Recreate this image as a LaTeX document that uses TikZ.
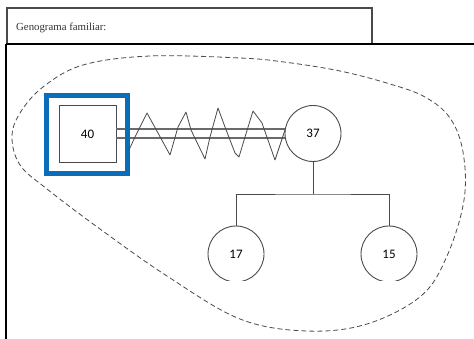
\documentclass[tikz,border=0pt]{standalone}
\usepackage{fontspec}
\setmainfont{Liberation Serif}
\newfontfamily\numfont{Carlito}
\definecolor{frameblue}{HTML}{0B6DB8}
\definecolor{inkgray}{HTML}{4A4A4A}
\definecolor{linkgray}{HTML}{6A6A6A}
\tikzset{
  person/.style={draw=inkgray, line width=0.9pt, font=\numfont\fontsize{13}{15}\selectfont, inner sep=0pt},
  female/.style={person, circle, minimum size=56pt},
  male/.style={person, rectangle, minimum size=56pt},
  tie/.style={draw=inkgray, line width=0.9pt},
  marriage/.style={draw=linkgray, line width=1.1pt},
  boundary/.style={draw=inkgray, line width=0.8pt, dash pattern=on 5pt off 3pt},
}
\begin{document}
\begin{tikzpicture}[x=1pt, y=-1pt]
\useasboundingbox (0,0) rectangle (474,339);
\fill[white] (0,0) rectangle (474,339);

% title tab and sheet
\draw[inkgray, line width=1.3pt] (7,44) -- (7,8) -- (372,8) -- (372,44);
\node[anchor=base west, inner sep=0pt, font=\fontsize{10.8}{13}\selectfont, text=black!80] (title) at (16,31) {Genograma familiar:};
\draw[black, line width=1.4pt] (480,44) -- (6,44);
\draw[black, line width=2.4pt] (6,44) -- (6,345);

% household boundary
\draw[boundary] plot[smooth cycle, tension=0.6] coordinates {
  (240,58) (150,56) (83,65) (43,87) (20,113) (12,137) (20,165) (47,189)
  (100,229) (167,276) (240,319) (307,331) (367,324) (421,296) (447,256)
  (464,200) (463,152) (450,118) (425,97) (390,84) (340,71) (284,62)};

% people
\node[male, minimum size=57pt] (p40) at (87.5,134) {40};
\node[female] (p37) at (313,133.5) {37};
\begin{scope}
  \clip (0,0) rectangle (474,280.5);
  \node[female] (p17) at (236,254) {17};
  \node[female] (p15) at (389,254) {15};
\end{scope}

% union: married, with conflict
\draw[marriage] ([yshift=4.5pt]p37.west -| p40.east) -- ([yshift=4.5pt]p37.west);
\draw[marriage] ([yshift=-4.5pt]p37.west -| p40.east) -- ([yshift=-4.5pt]p37.west);

% index person frame
\draw[frameblue, line width=5pt] (46.5,95.5) rectangle (127.5,173.5);

\draw[inkgray, line width=0.8pt, line join=round] (129,150) -- (135,137) -- (147,113) -- (158,133) -- (170,155)
  -- (178,127) -- (186,112) -- (191,130) -- (205,159) -- (210,137) -- (218,108) -- (225,127)
  -- (235,153) -- (239,157) -- (245,137) -- (253,111) -- (262,123) -- (275,160) -- (285,130);

% children
\coordinate (fork) at (313,194);
\draw[tie] (p37.south) -- (fork);
\draw[tie] (p17.north) |- (fork) -| (p15.north);
\end{tikzpicture}
\end{document}
